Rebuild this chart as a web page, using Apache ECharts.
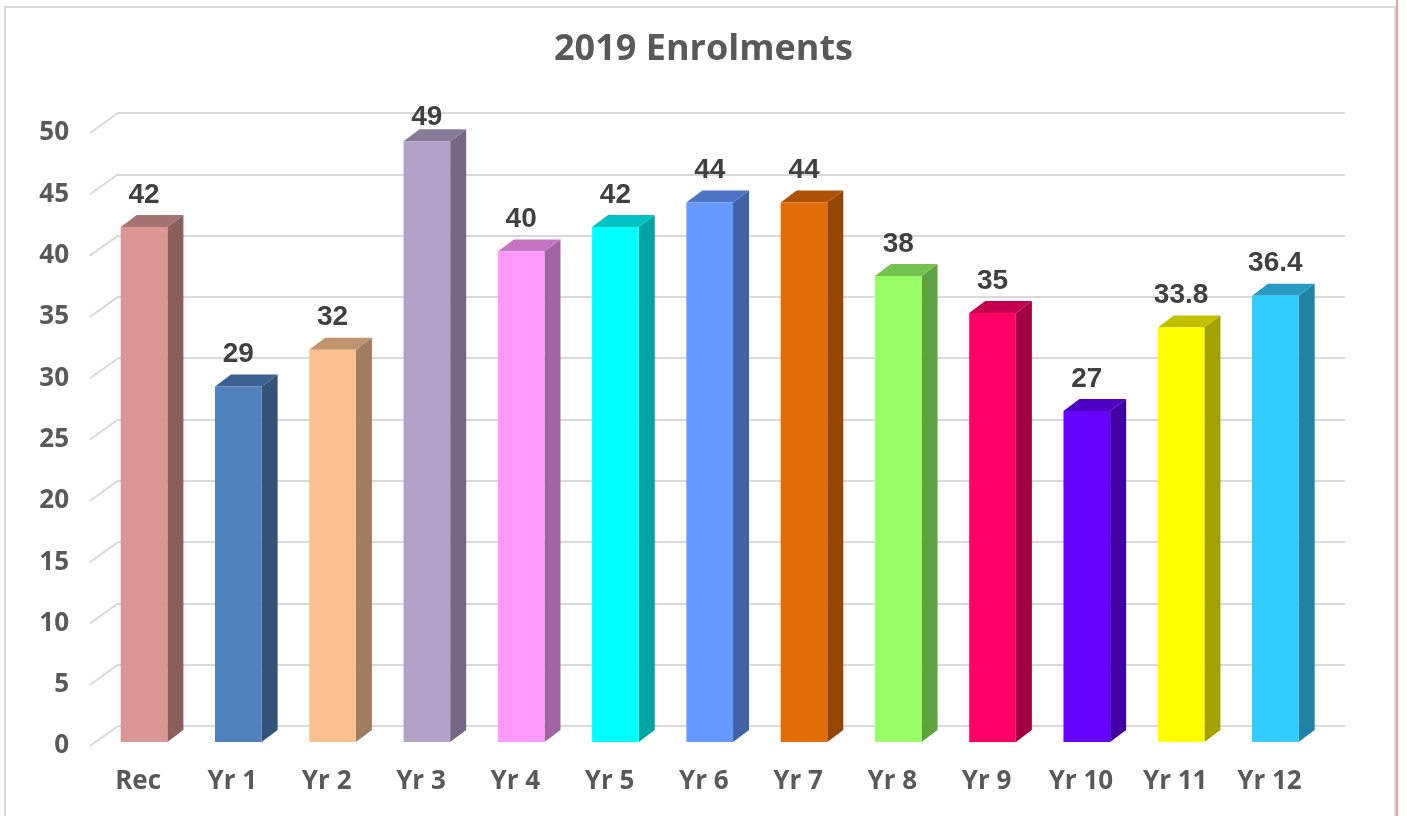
<!DOCTYPE html>
<html>
<head>
<meta charset="utf-8">
<script src="https://cdn.jsdelivr.net/npm/echarts@6/dist/echarts.min.js"></script>
<style>html,body{margin:0;padding:0;background:#fff;}#c{width:1407px;height:816px;}</style>
</head>
<body>
<div id="c"></div>
<script>
const categories = ['Rec','Yr 1','Yr 2','Yr 3','Yr 4','Yr 5','Yr 6','Yr 7','Yr 8','Yr 9','Yr 10','Yr 11','Yr 12'];
const values = [42, 29, 32, 49, 40, 42, 44, 44, 38, 35, 27, 33.8, 36.4];
const frontColors = ['#D99694','#4F81BD','#FAC090','#B3A2C7','#FF99FF','#00FFFF','#6699FF','#E36C09','#99FF66','#FF0066','#6600FF','#FFFF00','#33CCFF'];
const sideColors  = ['#8C5F5E','#32527A','#A17C5D','#736880','#A362A3','#00A3A3','#4162A3','#934606','#62A341','#A30041','#4100A3','#A3A300','#2183A3'];
const topColors   = ['#A67372','#3C6291','#BF946F','#887B98','#C475C4','#00C2C2','#4D74C2','#AD5207','#76C24E','#C2004E','#4E00C2','#C2C200','#279BC2'];
const yTicks = [0,5,10,15,20,25,30,35,40,45,50];

const DX = 16, DY = 12;
const chart = echarts.init(document.getElementById('c'));
chart.setOption({
  animation: false,
  backgroundColor: '#ffffff',
  title: {
    text: '2019 Enrolments', left: 'center', top: 27,
    textStyle: { fontFamily: 'Open Sans', fontWeight: 'bold', fontSize: 36, color: '#595959' }
  },
  graphic: [
    { type: 'rect', shape: { x: 5, y: 7, width: 1390, height: 840 }, style: { fill: 'none', stroke: '#D9D9D9', lineWidth: 2 }, silent: true },
    { type: 'line', shape: { x1: 1397, y1: 0, x2: 1397, y2: 816 }, style: { stroke: '#E0A3A3', lineWidth: 2 }, silent: true }
  ],
  grid: [
    { left: 118, width: 1227, top: 113, height: 613 },
    { left: 91, width: 1225.6, top: 133, height: 613 },
    { left: 96.9, width: 1225.6, top: 129, height: 613 }
  ],
  xAxis: [
    { gridIndex: 0, type: 'value', min: 0, max: 1, show: false },
    { gridIndex: 1, type: 'category', data: categories,
      axisLine: { show: false }, axisTick: { show: false }, splitLine: { show: false },
      axisLabel: { margin: 23, fontFamily: 'Open Sans', fontWeight: 'bold', fontSize: 26, color: '#595959' } },
    { gridIndex: 2, type: 'category', data: categories, show: false }
  ],
  yAxis: [
    { gridIndex: 0, type: 'value', min: 0, max: 50, interval: 5,
      axisLine: { show: false }, axisTick: { show: false }, axisLabel: { show: false },
      splitLine: { show: true, lineStyle: { color: '#D9D9D9', width: 2 } } },
    { gridIndex: 1, type: 'value', min: 0, max: 50, interval: 5,
      axisLine: { show: false }, axisTick: { show: false }, splitLine: { show: false },
      axisLabel: { margin: 22, fontFamily: 'Open Sans', fontWeight: 'bold', fontSize: 26, color: '#595959' } },
    { gridIndex: 2, type: 'value', min: 0, max: 50, interval: 5, show: false }
  ],
  series: [
    {
      type: 'custom', xAxisIndex: 0, yAxisIndex: 0, silent: true,
      data: yTicks.map(v => [0, v]),
      renderItem: function (params, api) {
        const p = api.coord([0, api.value(1)]);
        return { type: 'line', shape: { x1: p[0] - 28, y1: p[1] + 20, x2: p[0], y2: p[1] },
                 style: { stroke: '#D9D9D9', lineWidth: 2 } };
      }
    },
    {
      type: 'custom', xAxisIndex: 2, yAxisIndex: 2, silent: true,
      data: values.map((v, i) => [i, v]),
      renderItem: function (params, api) {
        const i = api.value(0), v = api.value(1);
        const base = api.coord([i, 0]);
        const top = api.coord([i, v]);
        const bw = api.size([1, 0])[0] * 0.495;
        const x0 = top[0] - bw / 2, x1 = top[0] + bw / 2;
        const y0 = top[1], y1 = base[1];
        const label = String(v);
        const ly = Math.max(y0 - 32, 117);
        return {
          type: 'group',
          children: [
            { type: 'polygon', shape: { points: [[x1, y0], [x1 + DX, y0 - DY], [x1 + DX, y1 - DY], [x1, y1]] },
              style: { fill: sideColors[i] } },
            { type: 'polygon', shape: { points: [[x0, y0], [x0 + DX, y0 - DY], [x1 + DX, y0 - DY], [x1, y0]] },
              style: { fill: topColors[i] } },
            { type: 'rect', shape: { x: x0, y: y0, width: bw, height: y1 - y0 },
              style: { fill: frontColors[i] } },
            { type: 'text', x: top[0], y: ly,
              style: { text: label, align: 'center', verticalAlign: 'middle',
                       font: 'bold 28px "Liberation Sans", Arial, sans-serif', fill: '#404040' } }
          ]
        };
      }
    }
  ]
});
</script>
</body>
</html>
